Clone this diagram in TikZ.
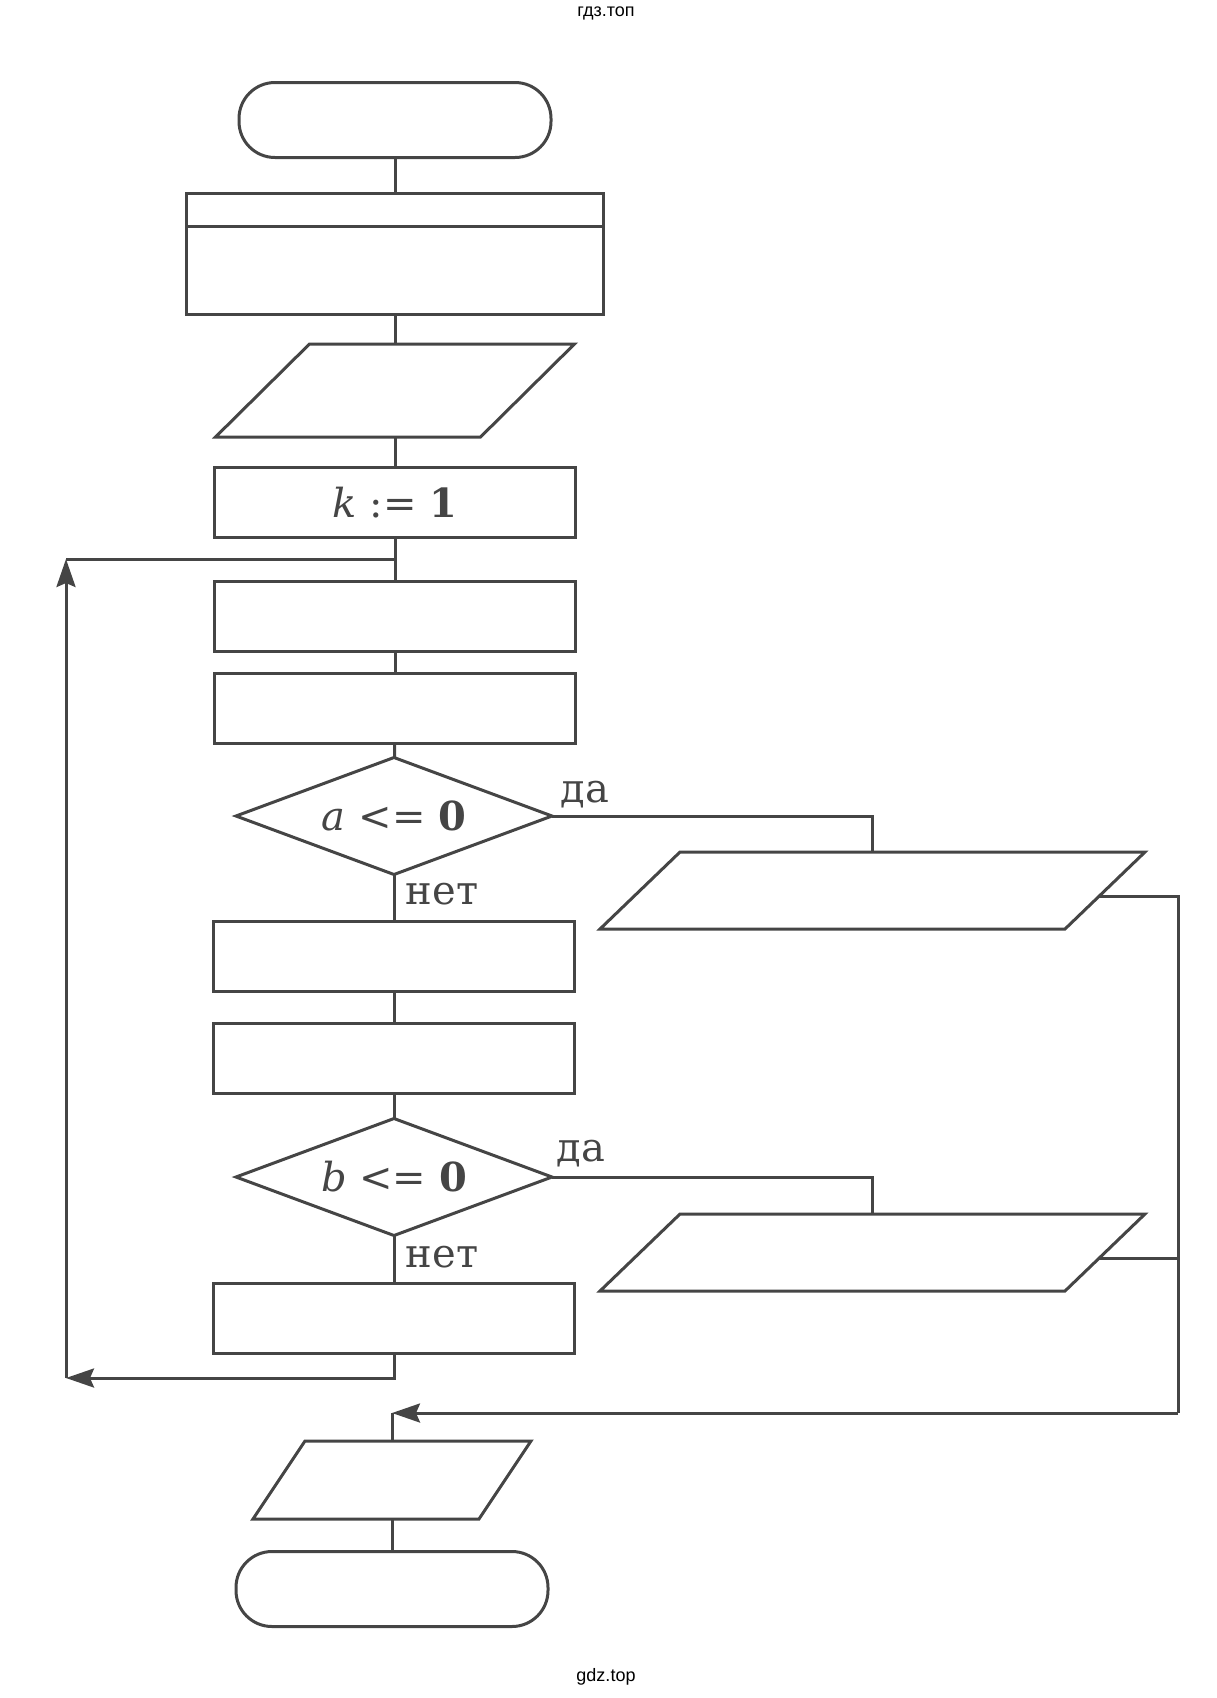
\documentclass[tikz,border=0pt]{standalone}
\usepackage{fontspec}
\setmainfont{DejaVu Serif}
\newfontfamily\wmfont{Liberation Sans}
\usetikzlibrary{shapes.geometric,arrows.meta,calc}

\definecolor{ink}{HTML}{454545}
\newcommand\iopath[2]{\draw ($(#1.north west)+(#2,0)$) -- (#1.north east) -- ($(#1.south east)-(#2,0)$) -- (#1.south west) -- cycle;}

\begin{document}
\begin{tikzpicture}[x=1pt, y=-1pt, line width=3pt, draw=ink,
  every node/.style={text=ink, outer sep=0pt, inner sep=0pt},
  term/.style={draw, rectangle, rounded corners=36pt, minimum width=312pt, minimum height=75pt},
  proc/.style={draw, rectangle, minimum width=361pt, minimum height=70pt, font=\fontsize{40}{46}\selectfont},
  io/.style={rectangle},
  cond/.style={draw, diamond, aspect=2.7, minimum width=316pt, minimum height=117pt, font=\fontsize{40}{46}\selectfont},
  lbl/.style={font=\fontsize{40}{46}\selectfont},
  wm/.style={text=black, font=\wmfont\fontsize{18}{20}\selectfont},
  >={Stealth[length=28pt, width=19pt, inset=4pt]}]
\path (0,0) -- (1216,1698);

\node[wm] (wtop) at (606,13) {гдз.топ};
\node[wm] (wbot) at (606,1677) {gdz.top};

\node[term] (start) at (395,120) {};
\node[proc, minimum width=417pt, minimum height=121pt] (init) at (395,253.5) {};
\draw ($(init.north west)+(0,33)$) -- ($(init.north east)+(0,33)$);
\node[io, minimum width=359pt, minimum height=93pt] (inp) at (395,390.5) {};
\iopath{inp}{94}
\node[proc] (k) at (395,502.5) {\textit{k} := \textbf{1}};
\node[proc] (b2) at (395,616) {};
\node[proc] (b3) at (395,708.5) {};
\node[cond] (c1) at (394,816) {\textit{a} <= \textbf{0}};
\node[lbl] (y1) at (585,795) {да};
\node[lbl] (n1) at (442,894) {нет};
\node[io, minimum width=545pt, minimum height=77pt] (out1) at (872.5,890.5) {};
\iopath{out1}{80}
\node[proc] (b4) at (394,956) {};
\node[proc] (b5) at (394,1058.5) {};
\node[cond] (c2) at (394,1177) {\textit{b} <= \textbf{0}};
\node[lbl] (y2) at (581,1154) {да};
\node[lbl] (n2) at (442,1257) {нет};
\node[io, minimum width=545pt, minimum height=77pt] (out2) at (872.5,1252.5) {};
\iopath{out2}{80}
\node[proc] (b6) at (394,1318) {};
\node[io, minimum width=278pt, minimum height=78pt] (res) at (392,1480) {};
\iopath{res}{52}
\node[term] (stop) at (392,1589) {};

\coordinate (lp1) at (66,1378);
\coordinate (lp2) at (66,559);
\coordinate (coll) at (1178,1413);
\coordinate (join) at (392,1413);
\coordinate (ex1) at ($(out1.north east)!0.58!($(out1.south east)-(80,0)$)$);
\coordinate (ex2) at ($(out2.north east)!0.58!($(out2.south east)-(80,0)$)$);

\draw (start) -- (init);
\draw (init) -- (inp);
\draw (inp) -- (k);
\draw (k) -- (b2);
\draw (b2) -- (b3);
\draw (b3) -- (c1);
\draw (c1.east) -| (out1.north);
\draw (c1) -- (b4);
\draw (b4) -- (b5);
\draw (b5) -- (c2);
\draw (c2.east) -| (out2.north);
\draw (c2) -- (b6);
\draw[->] (b6.south) |- (lp1);
\draw[->] (lp1) -- (lp2);
\draw (lp2) -- (k |- lp2);
\draw (ex1) -| (coll);
\draw (ex2) -- (ex2 -| coll);
\draw[->] (coll) -- (join);
\draw (join) -- (res);
\draw (res) -- (stop);

\end{tikzpicture}
\end{document}
